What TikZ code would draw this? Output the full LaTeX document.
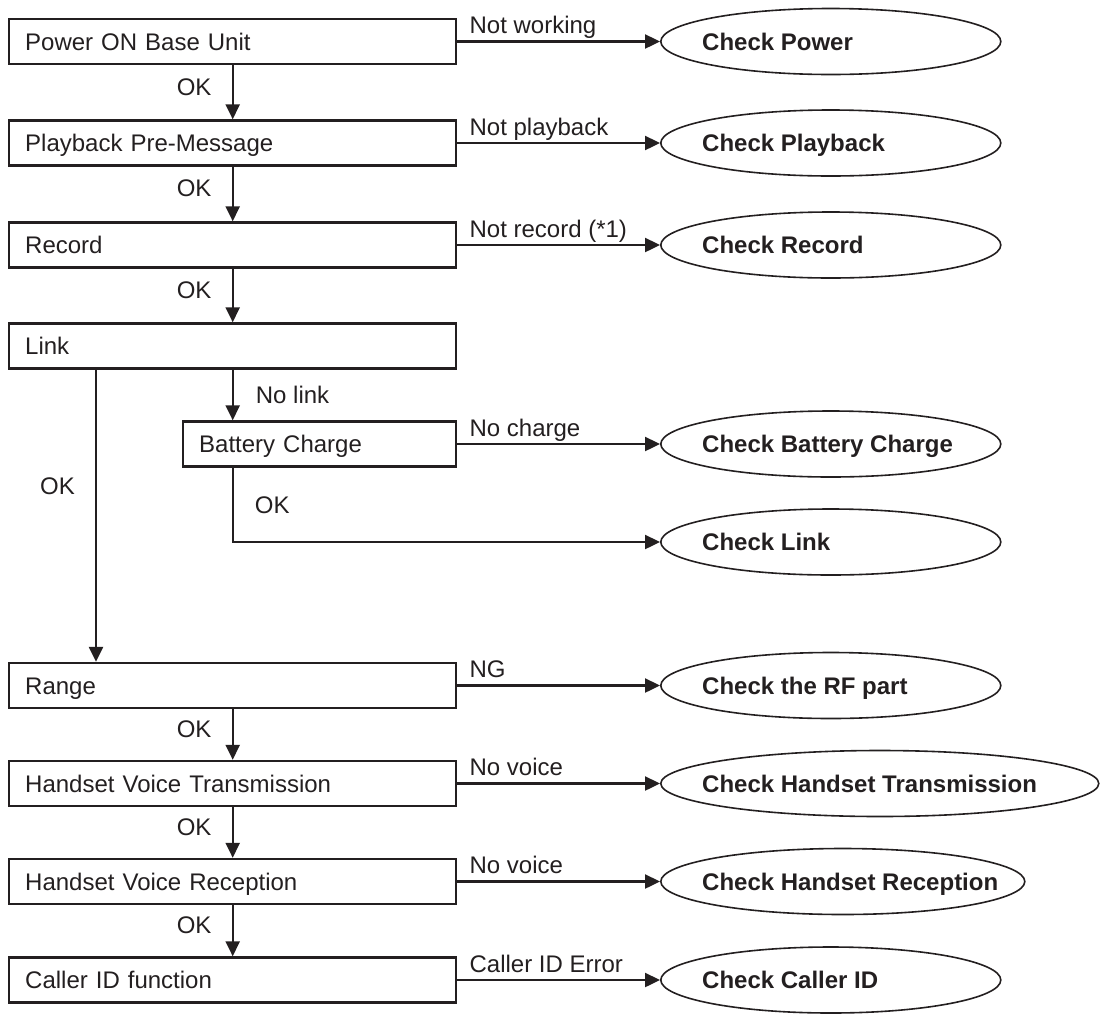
\documentclass[tikz,border=0pt]{standalone}
\usepackage{fontspec}
\setmainfont{Liberation Sans}
\usetikzlibrary{shapes.geometric, arrows.meta, positioning}

\definecolor{ink}{RGB}{35,31,32}

\tikzset{
  chkbox/.style={draw, rectangle, line width=2.4pt, anchor=west, minimum height=45pt,
    inner xsep=16pt, align=left, text width=#1, text height=17pt, text depth=0pt},
  chkbox/.default=415pt,
  result/.style={draw, ellipse, line width=1.6pt, anchor=west, minimum height=66pt,
    minimum width=#1, inner sep=0pt},
  result/.default=340pt,
  restext/.style={font=\fontsize{24}{28}\selectfont\bfseries, inner sep=0pt,
    text height=17pt, text depth=0pt},
  flow/.style={line width=2.4pt, -{Triangle[length=15pt, width=14pt]}},
  fail/.style={pos=0, anchor=base west, xshift=9pt, yshift=8pt, inner sep=2pt},
  ok/.style={pos=0.4, anchor=east, xshift=-17pt, inner sep=3pt},
  okright/.style={anchor=west, xshift=19pt, inner sep=3pt}
}

\begin{document}
\begin{tikzpicture}[x=1pt, y=-1pt, color=ink, font=\fontsize{24}{28}\selectfont]
\useasboundingbox (0,0) rectangle (1104,1013);

% checks
\node[chkbox] (power) at (8,41.5) {Power ON Base Unit};
\node[chkbox] (playback) at (8,143) {Playback Pre-Message};
\node[chkbox] (record) at (8,245) {Record};
\node[chkbox] (link) at (8,346) {Link};
\node[chkbox=241pt] (battery) at (182,444) {Battery Charge};
\node[chkbox] (range) at (8,685.5) {Range};
\node[chkbox] (trans) at (8,783.5) {Handset Voice Transmission};
\node[chkbox] (recep) at (8,881.5) {Handset Voice Reception};
\node[chkbox] (callerid) at (8,980) {Caller ID function};

% results
\node[result] (cpower) at (660,41.5) {};
\node[result] (cplayback) at (660,143) {};
\node[result] (crecord) at (660,245) {};
\node[result] (cbattery) at (660,444) {};
\node[result] (clink) at (660,542) {};
\node[result] (crange) at (660,685.5) {};
\node[result=438pt] (ctrans) at (660,783.5) {};
\node[result=364pt] (crecep) at (660,881.5) {};
\node[result] (ccallerid) at (660,980) {};

\node[restext, right=42pt of cpower.west] (tpower) {Check Power};
\node[restext, right=42pt of cplayback.west] (tplayback) {Check Playback};
\node[restext, right=42pt of crecord.west] (trecord) {Check Record};
\node[restext, right=42pt of cbattery.west] (tbattery) {Check Battery Charge};
\node[restext, right=42pt of clink.west] (tlink) {Check Link};
\node[restext, right=42pt of crange.west] (trange) {Check the RF part};
\node[restext, right=42pt of ctrans.west] (ttrans) {Check Handset Transmission};
\node[restext, right=42pt of crecep.west] (trecep) {Check Handset Reception};
\node[restext, right=42pt of ccallerid.west] (tcallerid) {Check Caller ID};

% main line
\draw[flow] (power) -- node[ok] {OK} (playback);
\draw[flow] (playback) -- node[ok] {OK} (record);
\draw[flow] (record) -- node[ok] {OK} (link);
\draw[flow] (link.south) -- node[okright, midway] {No link} (link.south |- battery.north);
\draw[flow] ([xshift=88pt]link.south west) -- node[ok] {OK} ([xshift=88pt]range.north west);
\draw[flow] (battery.south -| link.south) |- node[okright, pos=0.25, xshift=-1pt] {OK} (clink.west);
\draw[flow] (range) -- node[ok] {OK} (trans);
\draw[flow] (trans) -- node[ok] {OK} (recep);
\draw[flow] (recep) -- node[ok] {OK} (callerid);

% failures
\draw[flow] (power.east) -- node[fail] {Not working} (cpower.west);
\draw[flow] (playback.east) -- node[fail] {Not playback} (cplayback.west);
\draw[flow] (record.east) -- node[fail] {Not record (*1)} (crecord.west);
\draw[flow] (battery.east) -- node[fail] {No charge} (cbattery.west);
\draw[flow] (range.east) -- node[fail] {NG} (crange.west);
\draw[flow] (trans.east) -- node[fail] {No voice} (ctrans.west);
\draw[flow] (recep.east) -- node[fail] {No voice} (crecep.west);
\draw[flow] (callerid.east) -- node[fail] {Caller ID Error} (ccallerid.west);
\end{tikzpicture}
\end{document}
